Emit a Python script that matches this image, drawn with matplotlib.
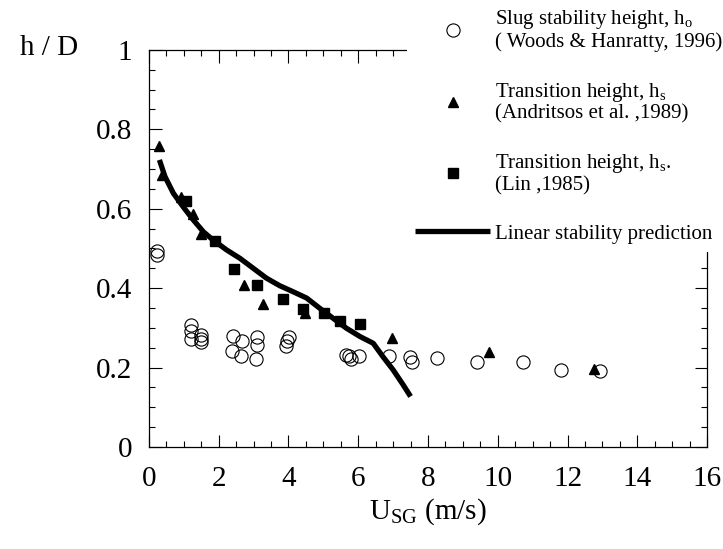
import matplotlib
matplotlib.use("Agg")
import matplotlib.pyplot as plt
from matplotlib.ticker import MultipleLocator

plt.rcParams['font.family'] = ['Liberation Serif', 'DejaVu Serif']
plt.rcParams['mathtext.fontset'] = 'custom'
plt.rcParams['mathtext.rm'] = 'Liberation Serif'
plt.rcParams['mathtext.it'] = 'Liberation Serif:italic'

# Slug stability height (Woods & Hanratty, 1996)
usg_ho = [0.23, 0.23, 1.21, 1.21, 1.21, 1.50, 1.50, 1.50, 2.40, 2.38, 2.67, 2.63,
          3.11, 3.09, 3.07, 4.02, 3.94, 3.97, 5.65, 5.73, 5.80, 6.02, 6.88, 7.48,
          7.53, 8.26, 9.40, 10.71, 11.81, 12.93]
h_ho = [0.494, 0.484, 0.306, 0.293, 0.273, 0.283, 0.273, 0.264, 0.280, 0.242, 0.268, 0.230,
        0.277, 0.257, 0.222, 0.276, 0.253, 0.266, 0.232, 0.228, 0.222, 0.230, 0.228, 0.226,
        0.215, 0.224, 0.215, 0.213, 0.194, 0.192]

# Transition height (Andritsos et al., 1989)
usg_and = [0.29, 0.37, 0.93, 1.26, 1.48, 2.73, 3.28, 4.48, 6.97, 9.75, 12.75]
h_and = [0.758, 0.686, 0.629, 0.587, 0.536, 0.407, 0.359, 0.338, 0.274, 0.239, 0.196]

# Transition height (Lin, 1985)
usg_lin = [1.07, 1.88, 2.45, 3.09, 3.85, 4.41, 5.02, 5.47, 6.05]
h_lin = [0.620, 0.519, 0.447, 0.409, 0.373, 0.348, 0.338, 0.316, 0.310]

# Linear stability prediction
usg_lsp = [0.30, 0.46, 0.70, 0.98, 1.27, 1.56, 1.84, 2.23, 2.61, 2.99, 3.37, 3.75,
           4.13, 4.52, 4.90, 5.28, 5.66, 6.05, 6.43, 6.71, 7.00, 7.29, 7.50]
h_lsp = [0.723, 0.681, 0.639, 0.605, 0.572, 0.542, 0.521, 0.496, 0.475, 0.450, 0.425, 0.406,
         0.391, 0.375, 0.349, 0.324, 0.299, 0.278, 0.261, 0.227, 0.194, 0.156, 0.127]

fig = plt.figure(figsize=(7.23, 5.49), dpi=100)
ax = fig.add_axes([0.206, 0.186, 0.772, 0.723])

ax.plot(usg_ho, h_ho, 'o', mfc='none', mec='black', mew=0.8, ms=9.5,
        label='Slug stability height, h$_{\\rm o}$\n( Woods & Hanratty, 1996)')
ax.plot(usg_and, h_and, '^', color='black', ms=7,
        label='Transition height, h$_{\\rm s}$\n(Andritsos et al. ,1989)')
ax.plot(usg_lin, h_lin, 's', color='black', ms=7.5,
        label='Transition height, h$_{\\rm s}$.\n(Lin ,1985)')
ax.plot(usg_lsp, h_lsp, '-', color='black', lw=3.8, solid_capstyle='butt',
        solid_joinstyle='round', label='Linear stability prediction')

ax.set_xlim(0, 16)
ax.set_ylim(0, 1)
ax.xaxis.set_major_locator(MultipleLocator(2))
ax.xaxis.set_minor_locator(MultipleLocator(0.5))
ax.yaxis.set_major_locator(MultipleLocator(0.2))
ax.yaxis.set_minor_locator(MultipleLocator(0.05))
ax.set_yticks([0, 0.2, 0.4, 0.6, 0.8, 1.0], ['0', '0.2', '0.4', '0.6', '0.8', '1'])
ax.tick_params(which='both', direction='in', top=True, right=True, width=0.8,
               labelsize=21)
ax.tick_params(which='major', length=9)
ax.tick_params(which='minor', length=4)
ax.tick_params(axis='y', which='major', pad=12)
ax.tick_params(axis='x', which='major', pad=14)
for s in ax.spines.values():
    s.set_linewidth(0.9)

fig.text(0.028, 0.912, 'h / D', fontsize=21, va='center', ha='left')
ax.set_xlabel('U$_{\\rm SG}$ (m/s)', fontsize=21, labelpad=3)

# legend box is opaque and sits over the top-right corner of the frame
leg = ax.legend(loc='upper left', bbox_to_anchor=(0.563, 1.0), bbox_transform=fig.transFigure,
                fontsize=15, frameon=True, facecolor='white', edgecolor='none',
                framealpha=1, fancybox=False, handlelength=3.6, handletextpad=0.2,
                labelspacing=1.38, borderpad=0.4, borderaxespad=0)
for t in leg.get_texts():
    t.set_linespacing(1.05)

fig.savefig('out.png', dpi=100)
